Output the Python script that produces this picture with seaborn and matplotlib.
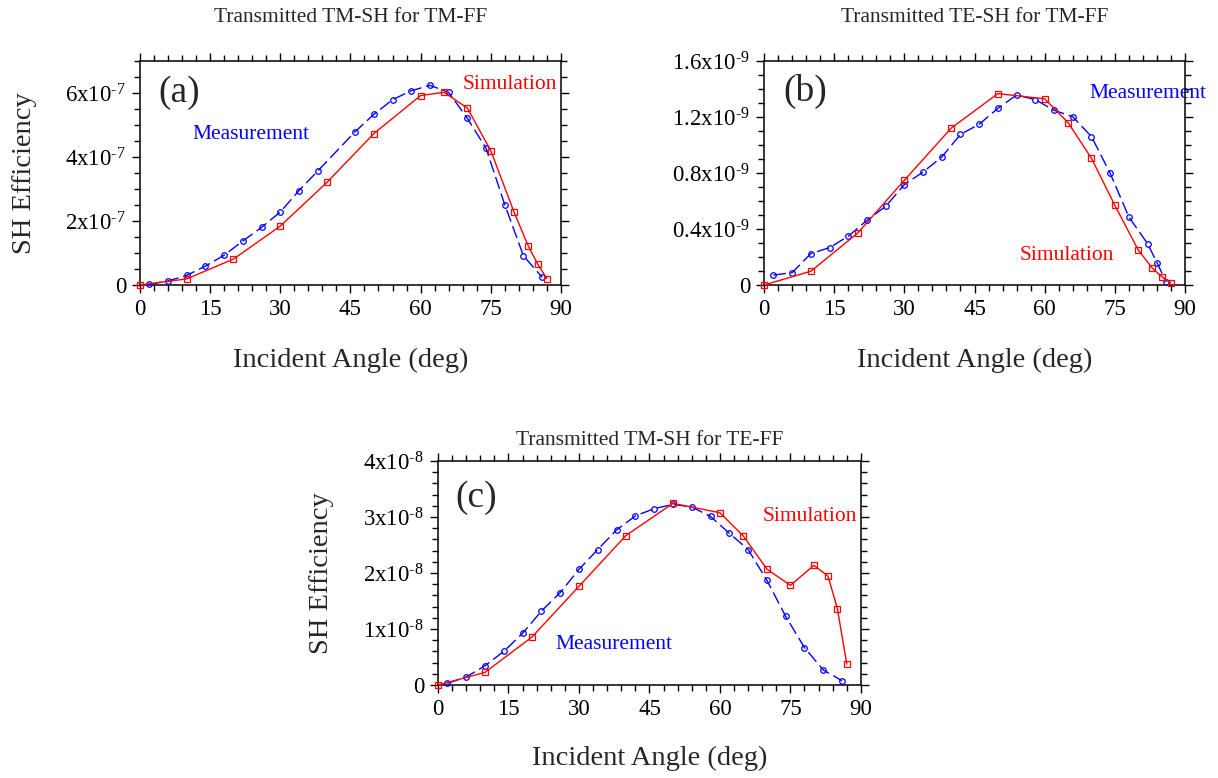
import numpy as np
import pandas as pd
import matplotlib
matplotlib.use("Agg")
import matplotlib.pyplot as plt
from matplotlib.ticker import MultipleLocator, FixedLocator
import seaborn as sns

# ---------------- data ----------------
# Panel (a): Transmitted TM-SH for TM-FF (units of 1e-7)
a_meas_x = [2, 6, 10, 14, 18, 22, 26, 30, 34, 38, 46, 50, 54, 58, 62, 66, 70, 74, 78, 82, 86]
a_meas_y = [0.02, 0.125, 0.30, 0.59, 0.93, 1.375, 1.80, 2.28, 2.95, 3.56, 4.79, 5.33, 5.79,
            6.07, 6.24, 6.02, 5.21, 4.27, 2.51, 0.91, 0.24]
a_sim_x = [0, 10, 20, 30, 40, 50, 60, 65, 70, 75, 80, 83, 85, 87]
a_sim_y = [0, 0.19, 0.81, 1.84, 3.21, 4.73, 5.92, 6.02, 5.53, 4.20, 2.27, 1.23, 0.66, 0.20]

# Panel (b): Transmitted TE-SH for TM-FF (units of 1e-9)
b_meas_x = [2, 6, 10, 14, 18, 22, 26, 30, 34, 38, 42, 46, 50, 54, 58, 62, 66, 70, 74, 78, 82, 84, 86]
b_meas_y = [0.071, 0.088, 0.224, 0.267, 0.348, 0.462, 0.562, 0.717, 0.807, 0.914, 1.076, 1.148,
            1.262, 1.357, 1.324, 1.248, 1.202, 1.06, 0.798, 0.486, 0.295, 0.16, 0.02]
b_sim_x = [0, 10, 20, 30, 40, 50, 60, 65, 70, 75, 80, 83, 85, 87]
b_sim_y = [0, 0.098, 0.37, 0.748, 1.12, 1.367, 1.33, 1.16, 0.905, 0.569, 0.25, 0.12, 0.06, 0.014]

# Panel (c): Transmitted TM-SH for TE-FF (units of 1e-8)
c_meas_x = [2, 6, 10, 14, 18, 22, 26, 30, 34, 38, 42, 46, 50, 54, 58, 62, 66, 70, 74, 78, 82, 86]
c_meas_y = [0.03, 0.143, 0.345, 0.60, 0.923, 1.32, 1.65, 2.065, 2.42, 2.77, 3.02, 3.15, 3.226,
            3.18, 3.01, 2.71, 2.42, 1.87, 1.226, 0.667, 0.268, 0.077]
c_sim_x = [0, 10, 20, 30, 40, 50, 60, 65, 70, 75, 80, 83, 85, 87]
c_sim_y = [0, 0.226, 0.857, 1.762, 2.67, 3.244, 3.077, 2.66, 2.07, 1.78, 2.137, 1.946, 1.363, 0.375]

titles = ["Transmitted TM-SH for TM-FF", "Transmitted TE-SH for TM-FF", "Transmitted TM-SH for TE-FF"]
panel_labels = ["(a)", "(b)", "(c)"]
x_ticks = [0, 15, 30, 45, 60, 75, 90]
a_yticks = [0, 2, 4, 6]
a_ytick_labels = ["0", r"$2\mathrm{x}10^{\text{-}7}$", r"$4\mathrm{x}10^{\text{-}7}$",
                  r"$6\mathrm{x}10^{\text{-}7}$"]
b_yticks = [0, 0.4, 0.8, 1.2, 1.6]
b_ytick_labels = ["0", r"$0.4\mathrm{x}10^{\text{-}9}$", r"$0.8\mathrm{x}10^{\text{-}9}$",
                  r"$1.2\mathrm{x}10^{\text{-}9}$", r"$1.6\mathrm{x}10^{\text{-}9}$"]
c_yticks = [0, 1, 2, 3, 4]
c_ytick_labels = ["0", r"$1\mathrm{x}10^{\text{-}8}$", r"$2\mathrm{x}10^{\text{-}8}$",
                  r"$3\mathrm{x}10^{\text{-}8}$", r"$4\mathrm{x}10^{\text{-}8}$"]
a_scale, b_scale, c_scale = 1e-7, 1e-9, 1e-8

# ---------------- style ----------------
sns.set_style("ticks")
plt.rcParams["font.family"] = ["Liberation Serif", "DejaVu Serif"]
plt.rcParams["mathtext.fontset"] = "custom"
plt.rcParams["mathtext.rm"] = "Liberation Serif"
plt.rcParams["mathtext.it"] = "Liberation Serif:italic"
plt.rcParams["mathtext.bf"] = "Liberation Serif:bold"
plt.rcParams["axes.linewidth"] = 1.1

BLUE = "#0000ff"
RED = "#ff0000"

fig = plt.figure(figsize=(12.18, 7.78), dpi=100)
ax_a = fig.add_axes([0.1149, 0.6337, 0.3456, 0.2879])
ax_b = fig.add_axes([0.6273, 0.6337, 0.3456, 0.2879])
ax_c = fig.add_axes([0.3596, 0.1195, 0.3472, 0.2879])

panels = [
    (ax_a, a_meas_x, a_meas_y, a_sim_x, a_sim_y, a_scale, a_yticks, a_ytick_labels, 7, 0.5),
    (ax_b, b_meas_x, b_meas_y, b_sim_x, b_sim_y, b_scale, b_yticks, b_ytick_labels, 1.6, 0.1),
    (ax_c, c_meas_x, c_meas_y, c_sim_x, c_sim_y, c_scale, c_yticks, c_ytick_labels, 4, 0.2),
]

for i, (ax, mx, my, sx, sy, sc, yt, ytl, ymax, yminor) in enumerate(panels):
    dm = pd.DataFrame({"angle": mx, "eff": np.array(my) * sc})
    ds = pd.DataFrame({"angle": sx, "eff": np.array(sy) * sc})
    sns.lineplot(data=dm, x="angle", y="eff", ax=ax, color=BLUE, lw=1.0,
                 marker="o", markersize=4.0, markerfacecolor="none",
                 markeredgecolor=BLUE, markeredgewidth=0.9, sort=False,
                 estimator=None, clip_on=False, zorder=3)
    ax.lines[-1].set_dashes([9, 3.5])
    sns.lineplot(data=ds, x="angle", y="eff", ax=ax, color=RED, lw=1.0,
                 marker="s", markersize=5.0, markerfacecolor="none",
                 markeredgecolor=RED, markeredgewidth=0.9, sort=False,
                 estimator=None, clip_on=False, zorder=4)

    ax.set_xlim(0, 90)
    ax.set_ylim(0, ymax * sc)
    ax.xaxis.set_major_locator(FixedLocator(x_ticks))
    ax.xaxis.set_minor_locator(MultipleLocator(3))
    ax.yaxis.set_major_locator(FixedLocator([v * sc for v in yt]))
    ax.yaxis.set_minor_locator(MultipleLocator(yminor * sc))
    ax.set_xticklabels([str(v) for v in x_ticks])
    ax.set_yticklabels(ytl)
    ax.tick_params(which="both", direction="out", top=True, right=True,
                   width=1.0, colors="black", labelsize=16.5)
    ax.tick_params(which="major", length=6, pad=4)
    ax.tick_params(which="minor", length=4)
    ax.set_xlabel("")
    ax.set_ylabel("")
    for sp in ax.spines.values():
        sp.set_visible(True)
        sp.set_color("black")

# panel labels and annotations
ax_a.text(0.043, 0.86, "(a)", transform=ax_a.transAxes, fontsize=27, va="center", ha="left")
ax_a.text(0.767, 0.897, "Simulation", transform=ax_a.transAxes, fontsize=15.5, color=RED,
          va="center", ha="left")
ax_a.text(0.124, 0.674, "Measurement", transform=ax_a.transAxes, fontsize=15.5, color=BLUE,
          va="center", ha="left")

ax_b.text(0.045, 0.865, "(b)", transform=ax_b.transAxes, fontsize=27, va="center", ha="left")
ax_b.text(0.774, 0.856, "Measurement", transform=ax_b.transAxes, fontsize=15.5, color=BLUE,
          va="center", ha="left", clip_on=False, zorder=1)
ax_b.text(0.608, 0.13, "Simulation", transform=ax_b.transAxes, fontsize=15.5, color=RED,
          va="center", ha="left")

ax_c.text(0.04, 0.835, "(c)", transform=ax_c.transAxes, fontsize=27, va="center", ha="left")
ax_c.text(0.767, 0.754, "Simulation", transform=ax_c.transAxes, fontsize=15.5, color=RED,
          va="center", ha="left")
ax_c.text(0.278, 0.179, "Measurement", transform=ax_c.transAxes, fontsize=15.5, color=BLUE,
          va="center", ha="left")

# titles
for ax, t, ty in [(ax_a, titles[0], 0.978), (ax_b, titles[1], 0.978), (ax_c, titles[2], 0.4344)]:
    pos = ax.get_position()
    fig.text(pos.x0 + pos.width / 2, ty, t, fontsize=15.5, ha="center", va="center")

# axis labels
for ax, ly in [(ax_a, 0.537), (ax_b, 0.537), (ax_c, 0.0257)]:
    pos = ax.get_position()
    fig.text(pos.x0 + pos.width / 2, ly, "Incident Angle (deg)", fontsize=20.5,
             ha="center", va="center")
fig.text(0.0205, 0.778, "SH Efficiency", fontsize=20.5, rotation=90, ha="center", va="center")
fig.text(0.264, 0.2635, "SH Efficiency", fontsize=20.5, rotation=90, ha="center", va="center")

fig.savefig("out.png", dpi=100)
